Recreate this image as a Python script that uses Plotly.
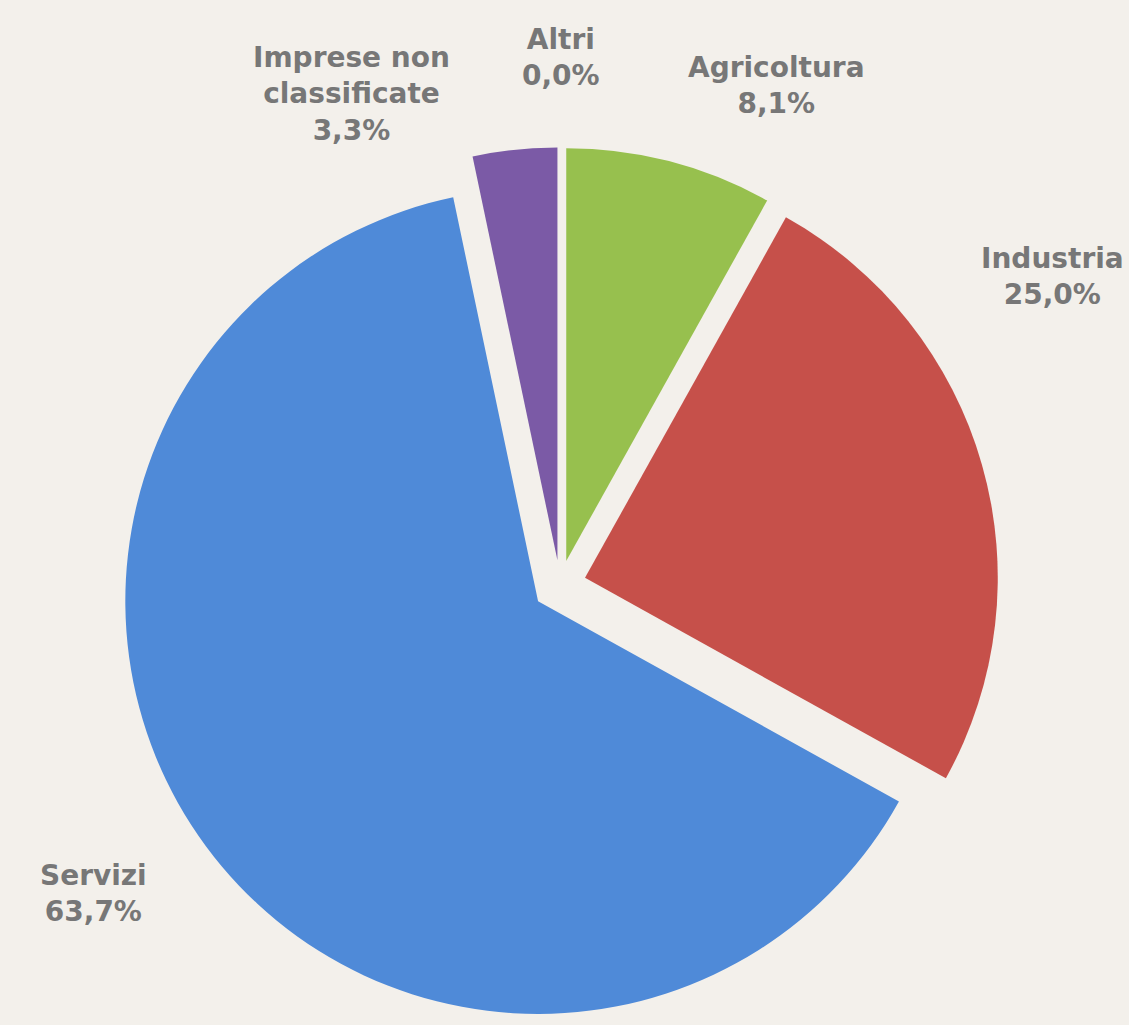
import plotly.graph_objects as go

# ---- data ----
categories = ["Agricoltura", "Industria", "Servizi", "Imprese non classificate", "Altri"]
label_text = ["Agricoltura", "Industria", "Servizi", "Imprese non<br>classificate", "Altri"]
values = [8.1, 25.0, 63.7, 3.3, 0.0]
colors = ["#97c04e", "#c6504a", "#4f8ad8", "#7b5aa6", "#4bacc6"]

W, H = 1129, 1025
BG = "#f3f0eb"

fig = go.Figure(go.Pie(
    labels=categories,
    values=values,
    sort=False,
    direction="clockwise",
    rotation=0,
    pull=[0.060, 0.063, 0.066, 0.060, 0.060],
    marker=dict(colors=colors, line=dict(width=0)),
    textinfo="none",
    hoverinfo="label+percent",
    showlegend=False,
    domain=dict(x=[120 / W, 1000 / W], y=[0, 880 / H]),
))

# label placement (pixel centres, layout only)
label_pos = [(776, 86), (1052, 276), (93, 893), (351, 94), (561, 57)]

def fmt(v):
    return f"{v:.1f}".replace(".", ",") + "%"

for name, v, (px, py) in zip(label_text, values, label_pos):
    fig.add_annotation(
        x=px / W, y=1 - py / H, xref="paper", yref="paper",
        xanchor="center", yanchor="middle",
        text=f"<b>{name}<br>{fmt(v)}</b>",
        showarrow=False,
        font=dict(family="DejaVu Sans, Verdana, sans-serif", size=28, color="#777777"),
        align="center",
    )

fig.update_layout(
    width=W, height=H,
    margin=dict(l=0, r=0, t=0, b=0),
    paper_bgcolor=BG,
    plot_bgcolor=BG,
)

fig.write_html(
    "out.html",
    config={"displayModeBar": False},
    post_script="document.body.style.margin='0';document.documentElement.style.margin='0';",
)
